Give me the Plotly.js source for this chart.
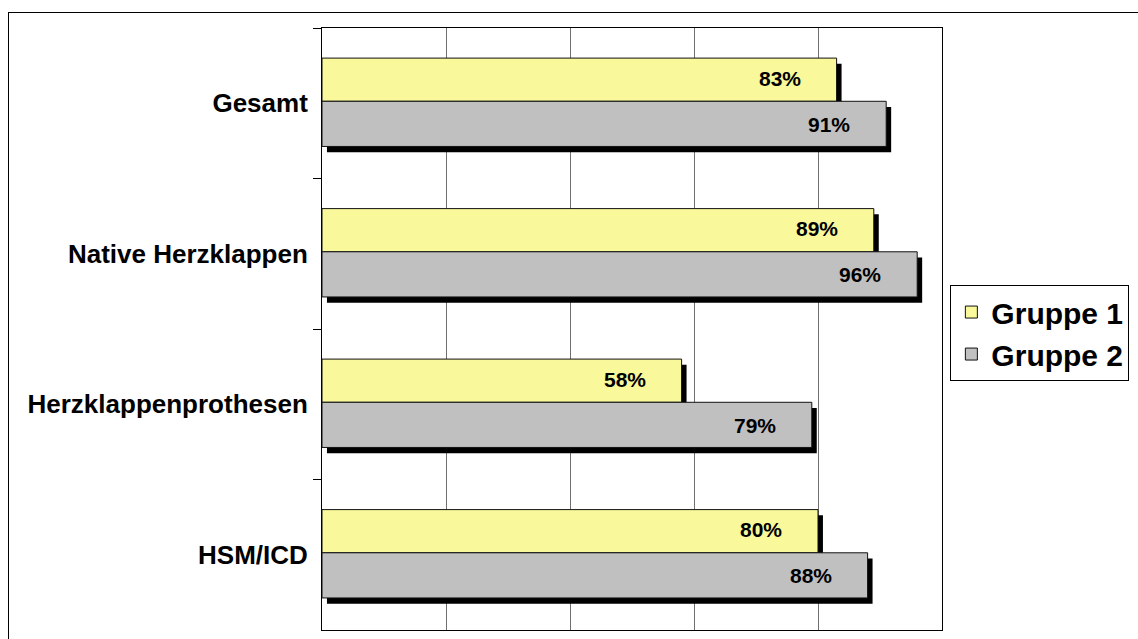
<!DOCTYPE html>
<html>
<head>
<meta charset="utf-8">
<script src="https://cdn.plot.ly/plotly-3.0.1.min.js"></script>
<style>
  html, body { margin: 0; padding: 0; background: #fff; }
  #wrap { position: relative; width: 1138px; height: 639px; overflow: hidden; }
  #chart { width: 1138px; height: 639px; }
  #frame { position: absolute; left: 8px; top: 12px; width: 1200px; height: 700px;
           border: 1px solid #000; pointer-events: none; box-sizing: border-box; }
</style>
</head>
<body>
<div id="wrap">
  <div id="chart"></div>
  <div id="frame"></div>
</div>
<script>
// ---- data ----
const categories = ["Gesamt", "Native Herzklappen", "Herzklappenprothesen", "HSM/ICD"];
const gruppe1 = [83, 89, 58, 80];
const gruppe2 = [91, 96, 79, 88];
const seriesNames = ["Gruppe 1", "Gruppe 2"];

// ---- style ----
const yellow = "#F9F89B";
const grey = "#C0C0C0";
const font = "Arial, 'Liberation Sans', sans-serif";
const shadowBase = 0.8;      // horizontal shadow shift (axis units)
const shadowDrop = 0.038;    // vertical shadow shift (category units)
const off1 = -0.30, w1 = 0.287;
const off2 = -0.013, w2 = 0.30;

function shadow(vals, off, w) {
  return {
    type: "bar", orientation: "h", y: categories, x: vals,
    base: shadowBase, offset: off + shadowDrop, width: w,
    marker: { color: "#000", line: { width: 0 } },
    showlegend: false, hoverinfo: "skip"
  };
}
function bars(vals, name, color, off, w) {
  return {
    type: "bar", orientation: "h", y: categories, x: vals, name: name,
    offset: off, width: w,
    marker: { color: color, line: { color: "#111", width: 1 } }
  };
}

const data = [
  shadow(gruppe1, off1, w1),
  shadow(gruppe2, off2, w2),
  bars(gruppe1, seriesNames[0], yellow, off1, w1),
  bars(gruppe2, seriesNames[1], grey, off2, w2)
];

const annotations = [];
categories.forEach((c, i) => {
  annotations.push({ x: gruppe1[i], y: c, xref: "x", yref: "y", text: gruppe1[i] + "%",
    showarrow: false, xanchor: "right", xshift: -34, yshift: 25,
    font: { family: font, size: 21, color: "#000", weight: "bold" } });
  annotations.push({ x: gruppe2[i], y: c, xref: "x", yref: "y", text: gruppe2[i] + "%",
    showarrow: false, xanchor: "right", xshift: -34, yshift: -21,
    font: { family: font, size: 21, color: "#000", weight: "bold" } });
});

const layout = {
  width: 1138, height: 639,
  margin: { l: 322, r: 196, t: 28, b: 9, pad: 0 },
  paper_bgcolor: "#fff", plot_bgcolor: "#fff",
  barmode: "overlay",
  font: { family: font, color: "#000" },
  xaxis: {
    range: [0, 100], dtick: 20, tick0: 0,
    showgrid: true, gridcolor: "#707070", gridwidth: 1,
    showticklabels: false, ticks: "",
    showline: true, linecolor: "#000", linewidth: 1, mirror: true,
    zeroline: false, fixedrange: true
  },
  yaxis: {
    type: "category", categoryorder: "array", categoryarray: categories,
    autorange: "reversed",
    tickson: "boundaries", ticks: "outside", ticklen: 8, tickcolor: "#000", tickwidth: 1,
    showgrid: false, showline: true, linecolor: "#000", linewidth: 1, mirror: true,
    ticklabelstandoff: 8,
    tickfont: { family: font, size: 26, color: "#000", weight: "bold" },
    fixedrange: true
  },
  legend: {
    x: 1.0135, xanchor: "left", y: 0.573, yanchor: "top",
    bgcolor: "#fff", bordercolor: "#000", borderwidth: 1,
    font: { family: font, size: 30, color: "#000", weight: "bold" },
    traceorder: "normal", itemwidth: 30, tracegroupgap: 0
  },
  annotations: annotations,
  showlegend: true
};

Plotly.newPlot("chart", data, layout, { displayModeBar: false, staticPlot: true });
</script>
</body>
</html>
